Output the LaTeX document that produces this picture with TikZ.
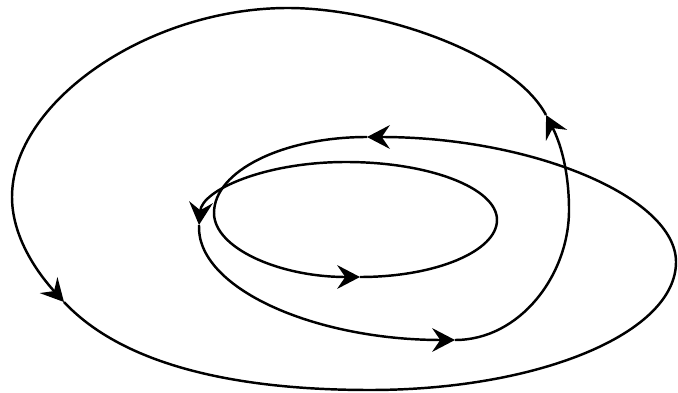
\documentclass[tikz,border=0pt]{standalone}
\usetikzlibrary{arrows.meta}

\begin{document}
\begin{tikzpicture}[
    x=0.02cm, y=0.02cm,
    orbit/.style={line width=1.4pt, -{Stealth[length=13pt, width=13.5pt, inset=4.6pt]}}
]
\useasboundingbox (0,0) rectangle (678,392);

% Inner loop
\coordinate (inS) at (360,115);
\coordinate (inE) at (497,172);
\coordinate (inN) at (346,230);
\coordinate (inW) at (214,179);

% Middle loop
\coordinate (midW) at (199,167);
\coordinate (midS) at (455,52);
\coordinate (midE) at (569,182);
\coordinate (midN) at (367,255);

% Outer loop
\coordinate (outNE) at (546,277);
\coordinate (outN) at (288,384);
\coordinate (outW) at (12,195);
\coordinate (outSW) at (64,90);
\coordinate (outS) at (370,2);
\coordinate (outE) at (676,130);

% One closed orbit, cut at the arrows
\draw[orbit] (inS) .. controls +(76,0) and +(0,-31) .. (inE)
    .. controls +(0,32) and +(83,0) .. (inN)
    .. controls +(-81,0) and +(3,35) .. (midW);
\draw[orbit] (midW) .. controls +(-3,-63) and +(-141,0) .. (midS);
\draw[orbit] (midS) .. controls +(65,0) and +(0,-65) .. (midE)
    .. controls +(0,40) and +(14,-27) .. (outNE);
\draw[orbit] (outNE) .. controls +(-33,62) and +(90,0) .. (outN)
    .. controls +(-140,0) and +(0,95) .. (outW)
    .. controls +(0,-45) and +(-20,22) .. (outSW);
\draw[orbit] (outSW) .. controls +(41,-44) and +(-180,0) .. (outS)
    .. controls +(169,0) and +(0,-71) .. (outE)
    .. controls +(0,65) and +(165,0) .. (midN);
\draw[orbit] (midN) .. controls +(-84,0) and +(0,42) .. (inW)
    .. controls +(0,-35) and +(-81,0) .. (inS);

\end{tikzpicture}
\end{document}
